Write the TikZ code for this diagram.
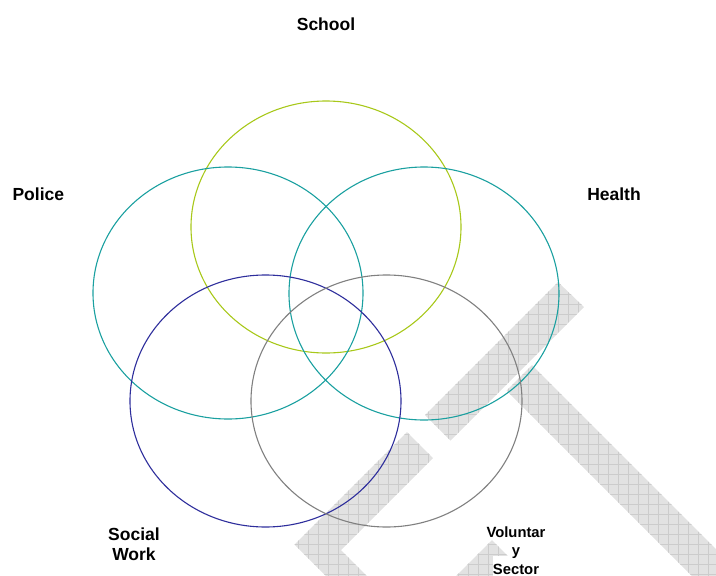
\documentclass[tikz,border=0pt]{standalone}
\usepackage{fontspec}
\setmainfont{Liberation Sans}
\definecolor{schoolring}{RGB}{168,200,26}
\definecolor{tealring}{RGB}{26,160,160}
\definecolor{bluering}{RGB}{46,46,156}
\definecolor{grayring}{RGB}{128,128,128}
\definecolor{wmfill}{RGB}{226,226,226}
\definecolor{wmline}{RGB}{204,204,204}
\begin{document}
\begin{tikzpicture}[x=1pt,y=-1pt,
  ring/.style={line width=1.1pt},
  lbl/.style={font=\bfseries\fontsize{17.5}{19.5}\selectfont, inner sep=0pt, align=center},
  lblsmall/.style={font=\bfseries\fontsize{14.8}{18.5}\selectfont, inner sep=0pt, align=center},
  wmgrid/.style={draw=wmline, line width=0.6pt}]

\useasboundingbox (0,0) rectangle (716,576);

% hatched diagonal bars in the background
\begin{scope}
  \clip (0,0) rectangle (716,576);
  \clip (425,415) -- (558,282) -- (584,307) -- (450.5,440.5) -- cycle
        (532,365) -- (800,633) -- (750,634) -- (506.5,390.5) -- cycle
        (407,432) -- (433,458) -- (341,550) -- (380,589) -- (339,589) -- (294.5,544.5) -- cycle
        (492,540) -- (517.5,565.5) -- (494,589) -- (443,589) -- cycle;
  \fill[wmfill] (0,0) rectangle (716,576);
  \foreach \k in {-2,8,...,718} {\draw[wmgrid] (\k,0) -- (\k,576);}
  \foreach \k in {4,14,...,584} {\draw[wmgrid] (0,\k) -- (716,\k);}
\end{scope}
% clear area behind the last label line
\fill[white] (493,556) rectangle (550,576);

% the five overlapping rings
\coordinate (cschool) at (326,227);
\coordinate (cpolice) at (228,293);
\coordinate (chealth) at (424,293.5);
\coordinate (csocial) at (265.5,401);
\coordinate (cvol) at (386.5,401);
\draw[ring, schoolring] (cschool) ellipse [x radius=135, y radius=126];
\draw[ring, tealring] (cpolice) ellipse [x radius=135, y radius=126];
\draw[ring, tealring] (chealth) ellipse [x radius=135, y radius=126.5];
\draw[ring, bluering] (csocial) ellipse [x radius=135.5, y radius=126];
\draw[ring, grayring] (cvol) ellipse [x radius=135.5, y radius=126];

% labels (base anchor sits on the last line)
\node[lbl, anchor=base] (school) at (326,30.7) {School};
\node[lbl, anchor=base] (police) at (38.3,200.7) {Police};
\node[lbl, anchor=base] (health) at (614,200.7) {Health};
\node[lbl, anchor=base] (social) at (134,560.2) {Social\\Work};
\node[lblsmall, anchor=base] (vol) at (516,574) {Voluntar\\y\\Sector};
\end{tikzpicture}
\end{document}
